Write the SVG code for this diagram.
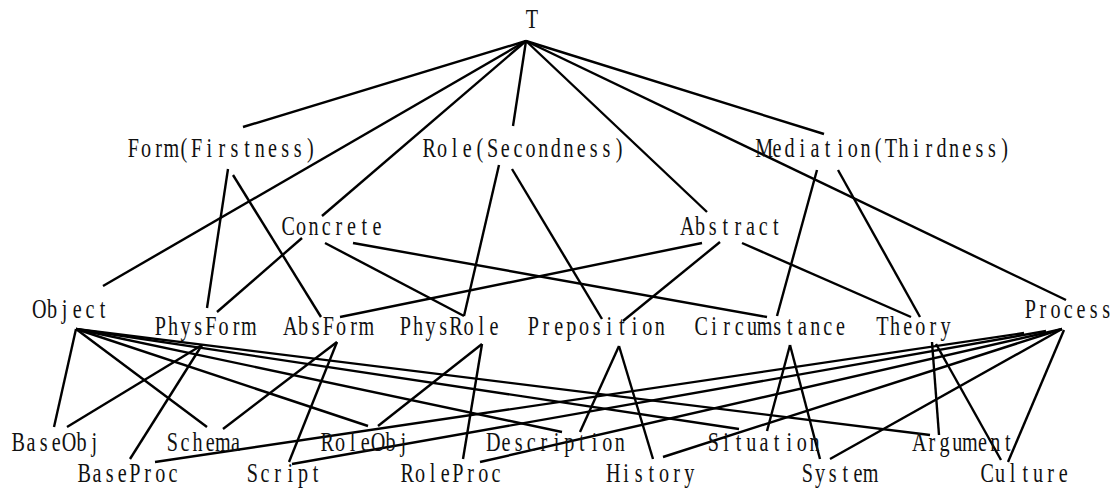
<svg xmlns="http://www.w3.org/2000/svg" width="1119" height="489" viewBox="0 0 1119 489">
<style>
text{font-family:"Liberation Serif","DejaVu Serif",serif;font-size:28px;fill:#111;text-anchor:middle;}
#edges line{stroke:#000;stroke-width:2.4;stroke-linecap:butt;}
</style>
<rect width="1119" height="489" fill="#fff"/>
<g id="edges">
<line x1="526" y1="41" x2="243" y2="127"/>
<line x1="526" y1="41" x2="103" y2="286"/>
<line x1="526" y1="41" x2="322" y2="216"/>
<line x1="526" y1="41" x2="513" y2="126"/>
<line x1="526" y1="41" x2="707" y2="212"/>
<line x1="526" y1="41" x2="824" y2="134"/>
<line x1="526" y1="41" x2="1066" y2="300"/>
<line x1="228" y1="169" x2="207" y2="308"/>
<line x1="233" y1="175" x2="321" y2="317"/>
<line x1="499" y1="165" x2="464" y2="316"/>
<line x1="512" y1="169" x2="602" y2="319"/>
<line x1="817" y1="170" x2="777" y2="316"/>
<line x1="838" y1="170" x2="920" y2="317"/>
<line x1="302" y1="238" x2="217" y2="312"/>
<line x1="325" y1="243" x2="464" y2="316"/>
<line x1="353" y1="243" x2="767" y2="317"/>
<line x1="702" y1="243" x2="340" y2="317"/>
<line x1="720" y1="242" x2="623" y2="321"/>
<line x1="742" y1="243" x2="911" y2="317"/>
<line x1="76" y1="329" x2="54" y2="427"/>
<line x1="76" y1="329" x2="207" y2="427"/>
<line x1="76" y1="329" x2="368" y2="426"/>
<line x1="76" y1="329" x2="562" y2="432"/>
<line x1="76" y1="329" x2="739" y2="429"/>
<line x1="76" y1="329" x2="930" y2="435"/>
<line x1="202" y1="345" x2="67" y2="427"/>
<line x1="202" y1="345" x2="130" y2="459"/>
<line x1="337" y1="342" x2="223" y2="429"/>
<line x1="337" y1="342" x2="289" y2="462"/>
<line x1="482" y1="344" x2="378" y2="426"/>
<line x1="482" y1="344" x2="463" y2="459"/>
<line x1="619" y1="346" x2="580" y2="432"/>
<line x1="619" y1="346" x2="653" y2="459"/>
<line x1="790" y1="345" x2="767" y2="431"/>
<line x1="790" y1="345" x2="820" y2="459"/>
<line x1="932" y1="342" x2="939" y2="435"/>
<line x1="936" y1="344" x2="1001" y2="460"/>
<line x1="1024" y1="333" x2="155" y2="462"/>
<line x1="1046" y1="331" x2="292" y2="464"/>
<line x1="1062" y1="329" x2="480" y2="462"/>
<line x1="1062" y1="329" x2="663" y2="457"/>
<line x1="1062" y1="329" x2="830" y2="459"/>
<line x1="1064" y1="330" x2="1008" y2="462"/>
</g>
<g id="n-T" transform="translate(532 28) scale(0.72 1)"><text x="0" y="0">T</text></g>
<g id="n-Form" transform="translate(127 157) scale(0.72 1)"><text x="8.78 26.35 43.92 61.49 79.06 96.63 114.2 131.77 149.34 166.91 184.48 202.05 219.62 237.19 254.76 272.33 289.9 307.47 325.04 342.61" y="0">Form(Firstness)</text></g>
<g id="n-Role" transform="translate(423 157) scale(0.72 1)"><text x="8.78 26.35 43.92 61.49 79.06 96.63 114.2 131.77 149.34 166.91 184.48 202.05 219.62 237.19 254.76 272.33 289.9 307.47 325.04 342.61" y="0">Role(Secondness)</text></g>
<g id="n-Mediation" transform="translate(758 157) scale(0.72 1)"><text x="8.78 26.35 43.92 61.49 79.06 96.63 114.2 131.77 149.34 166.91 184.48 202.05 219.62 237.19 254.76 272.33 289.9 307.47 325.04 342.61" y="0">Mediation(Thirdness)</text></g>
<g id="n-Concrete" transform="translate(282 235) scale(0.72 1)"><text x="8.78 26.35 43.92 61.49 79.06 96.63 114.2 131.77 149.34 166.91 184.48 202.05 219.62 237.19 254.76 272.33 289.9 307.47 325.04 342.61" y="0">Concrete</text></g>
<g id="n-Abstract" transform="translate(681 235) scale(0.72 1)"><text x="8.78 26.35 43.92 61.49 79.06 96.63 114.2 131.77 149.34 166.91 184.48 202.05 219.62 237.19 254.76 272.33 289.9 307.47 325.04 342.61" y="0">Abstract</text></g>
<g id="n-Object" transform="translate(33 318) scale(0.72 1)"><text x="8.78 26.35 43.92 61.49 79.06 96.63 114.2 131.77 149.34 166.91 184.48 202.05 219.62 237.19 254.76 272.33 289.9 307.47 325.04 342.61" y="0">Object</text></g>
<g id="n-Process" transform="translate(1024 318) scale(0.72 1)"><text x="8.78 26.35 43.92 61.49 79.06 96.63 114.2 131.77 149.34 166.91 184.48 202.05 219.62 237.19 254.76 272.33 289.9 307.47 325.04 342.61" y="0">Process</text></g>
<g id="n-PhysForm" transform="translate(154 335) scale(0.72 1)"><text x="8.78 26.35 43.92 61.49 79.06 96.63 114.2 131.77 149.34 166.91 184.48 202.05 219.62 237.19 254.76 272.33 289.9 307.47 325.04 342.61" y="0">PhysForm</text></g>
<g id="n-AbsForm" transform="translate(284 335) scale(0.72 1)"><text x="8.78 26.35 43.92 61.49 79.06 96.63 114.2 131.77 149.34 166.91 184.48 202.05 219.62 237.19 254.76 272.33 289.9 307.47 325.04 342.61" y="0">AbsForm</text></g>
<g id="n-PhysRole" transform="translate(399 335) scale(0.72 1)"><text x="8.78 26.35 43.92 61.49 79.06 96.63 114.2 131.77 149.34 166.91 184.48 202.05 219.62 237.19 254.76 272.33 289.9 307.47 325.04 342.61" y="0">PhysRole</text></g>
<g id="n-Preposition" transform="translate(527 335) scale(0.72 1)"><text x="8.78 26.35 43.92 61.49 79.06 96.63 114.2 131.77 149.34 166.91 184.48 202.05 219.62 237.19 254.76 272.33 289.9 307.47 325.04 342.61" y="0">Preposition</text></g>
<g id="n-Circumstance" transform="translate(695 335) scale(0.72 1)"><text x="8.78 26.35 43.92 61.49 79.06 96.63 114.2 131.77 149.34 166.91 184.48 202.05 219.62 237.19 254.76 272.33 289.9 307.47 325.04 342.61" y="0">Circumstance</text></g>
<g id="n-Theory" transform="translate(876 335) scale(0.72 1)"><text x="8.78 26.35 43.92 61.49 79.06 96.63 114.2 131.77 149.34 166.91 184.48 202.05 219.62 237.19 254.76 272.33 289.9 307.47 325.04 342.61" y="0">Theory</text></g>
<g id="n-BaseObj" transform="translate(12 451) scale(0.72 1)"><text x="8.78 26.35 43.92 61.49 79.06 96.63 114.2 131.77 149.34 166.91 184.48 202.05 219.62 237.19 254.76 272.33 289.9 307.47 325.04 342.61" y="0">BaseObj</text></g>
<g id="n-Schema" transform="translate(166 451) scale(0.72 1)"><text x="8.78 26.35 43.92 61.49 79.06 96.63 114.2 131.77 149.34 166.91 184.48 202.05 219.62 237.19 254.76 272.33 289.9 307.47 325.04 342.61" y="0">Schema</text></g>
<g id="n-RoleObj" transform="translate(321 451) scale(0.72 1)"><text x="8.78 26.35 43.92 61.49 79.06 96.63 114.2 131.77 149.34 166.91 184.48 202.05 219.62 237.19 254.76 272.33 289.9 307.47 325.04 342.61" y="0">RoleObj</text></g>
<g id="n-Description" transform="translate(487 451) scale(0.72 1)"><text x="8.78 26.35 43.92 61.49 79.06 96.63 114.2 131.77 149.34 166.91 184.48 202.05 219.62 237.19 254.76 272.33 289.9 307.47 325.04 342.61" y="0">Description</text></g>
<g id="n-Situation" transform="translate(707 451) scale(0.72 1)"><text x="8.78 26.35 43.92 61.49 79.06 96.63 114.2 131.77 149.34 166.91 184.48 202.05 219.62 237.19 254.76 272.33 289.9 307.47 325.04 342.61" y="0">Situation</text></g>
<g id="n-Argument" transform="translate(913 451) scale(0.72 1)"><text x="8.78 26.35 43.92 61.49 79.06 96.63 114.2 131.77 149.34 166.91 184.48 202.05 219.62 237.19 254.76 272.33 289.9 307.47 325.04 342.61" y="0">Argument</text></g>
<g id="n-BaseProc" transform="translate(78 482) scale(0.72 1)"><text x="8.78 26.35 43.92 61.49 79.06 96.63 114.2 131.77 149.34 166.91 184.48 202.05 219.62 237.19 254.76 272.33 289.9 307.47 325.04 342.61" y="0">BaseProc</text></g>
<g id="n-Script" transform="translate(246 482) scale(0.72 1)"><text x="8.78 26.35 43.92 61.49 79.06 96.63 114.2 131.77 149.34 166.91 184.48 202.05 219.62 237.19 254.76 272.33 289.9 307.47 325.04 342.61" y="0">Script</text></g>
<g id="n-RoleProc" transform="translate(401 482) scale(0.72 1)"><text x="8.78 26.35 43.92 61.49 79.06 96.63 114.2 131.77 149.34 166.91 184.48 202.05 219.62 237.19 254.76 272.33 289.9 307.47 325.04 342.61" y="0">RoleProc</text></g>
<g id="n-History" transform="translate(607 482) scale(0.72 1)"><text x="8.78 26.35 43.92 61.49 79.06 96.63 114.2 131.77 149.34 166.91 184.48 202.05 219.62 237.19 254.76 272.33 289.9 307.47 325.04 342.61" y="0">History</text></g>
<g id="n-System" transform="translate(801 482) scale(0.72 1)"><text x="8.78 26.35 43.92 61.49 79.06 96.63 114.2 131.77 149.34 166.91 184.48 202.05 219.62 237.19 254.76 272.33 289.9 307.47 325.04 342.61" y="0">System</text></g>
<g id="n-Culture" transform="translate(981 482) scale(0.72 1)"><text x="8.78 26.35 43.92 61.49 79.06 96.63 114.2 131.77 149.34 166.91 184.48 202.05 219.62 237.19 254.76 272.33 289.9 307.47 325.04 342.61" y="0">Culture</text></g>
</svg>
